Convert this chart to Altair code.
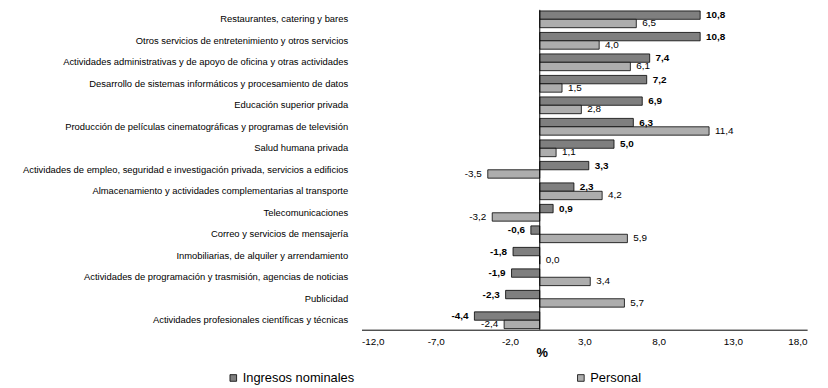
import altair as alt
import pandas as pd

categories = [
    "Restaurantes, catering y bares",
    "Otros servicios de entretenimiento y otros servicios",
    "Actividades administrativas y de apoyo de oficina y otras actividades",
    "Desarrollo de sistemas informáticos y procesamiento de datos",
    "Educación superior privada",
    "Producción de películas cinematográficas y programas de televisión",
    "Salud humana privada",
    "Actividades de empleo, seguridad e investigación privada, servicios a edificios",
    "Almacenamiento y actividades complementarias al transporte",
    "Telecomunicaciones",
    "Correo y servicios de mensajería",
    "Inmobiliarias, de alquiler y arrendamiento",
    "Actividades de programación y trasmisión, agencias de noticias",
    "Publicidad",
    "Actividades profesionales científicas y técnicas",
]
ingresos = [10.8, 10.8, 7.4, 7.2, 6.9, 6.3, 5.0, 3.3, 2.3, 0.9, -0.6, -1.8, -1.9, -2.3, -4.4]
personal = [6.5, 4.0, 6.1, 1.5, 2.8, 11.4, 1.1, -3.5, 4.2, -3.2, 5.9, 0.0, 3.4, 5.7, -2.4]
series = ["Ingresos nominales", "Personal"]
x_ticks = [-12, -7, -2, 3, 8, 13, 18]

rows = []
for c, a, b in zip(categories, ingresos, personal):
    for s, v in zip(series, (a, b)):
        rows.append({"cat": c, "serie": s, "v": v,
                     "lab": f"{v:.1f}".replace(".", ",")})
df = pd.DataFrame(rows)

yenc = alt.Y("cat:N", sort=categories, title=None,
             scale=alt.Scale(paddingInner=0.22, paddingOuter=0.05),
             axis=alt.Axis(domain=False, ticks=False, labelFontSize=9.5,
                           labelFont="Liberation Sans", labelColor="black",
                           labelPadding=14, labelLimit=400))
xenc = alt.X("v:Q", title="%",
             scale=alt.Scale(domain=[-12, 18], nice=False, zero=False),
             axis=alt.Axis(values=x_ticks, grid=False, ticks=False,
                           domainColor="black", domainWidth=1,
                           labelFontSize=10, labelFont="Liberation Sans",
                           labelColor="black", labelPadding=7,
                           labelExpr="(datum.value < 0 ? '-' : '') + replace(format(abs(datum.value), '.1f'), '.', ',')",
                           titleFontSize=13, titleFontWeight="bold",
                           titleFont="Liberation Sans", titleX=182,
                           titleY=17, titleAlign="center"))
yoff = alt.YOffset("serie:N", sort=series, scale=alt.Scale(domain=series))

base = alt.Chart(df)

bars = base.mark_bar(stroke="black", strokeWidth=0.8).encode(
    y=yenc, x=xenc, yOffset=yoff,
    color=alt.Color("serie:N", sort=series,
                    scale=alt.Scale(domain=series, range=["#7f7f7f", "#adadad"]),
                    legend=alt.Legend(title=None, orient="none", direction="horizontal",
                                      legendX=-136, legendY=365, columns=2,
                                      columnPadding=222, symbolType="square",
                                      symbolSize=45, symbolStrokeColor="black",
                                      symbolStrokeWidth=0.8,
                                      labelFontSize=13, labelFont="Liberation Sans",
                                      labelColor="black", labelOffset=3)),
)

zero = alt.Chart(pd.DataFrame({"z": [0]})).mark_rule(color="black", strokeWidth=1).encode(
    x=alt.X("z:Q", scale=alt.Scale(domain=[-12, 18], nice=False, zero=False))
)

def labels(serie, positive, weight):
    cond = "datum.v >= 0" if positive else "datum.v < 0"
    return base.transform_filter(f"datum.serie == '{serie}' && {cond}").mark_text(
        align="left" if positive else "right", dx=6 if positive else -6,
        fontSize=10, font="Liberation Sans", fontWeight=weight, color="black",
        baseline="middle",
    ).encode(y=yenc, x=xenc, yOffset=yoff, text="lab:N")

chart = alt.layer(
    bars, zero,
    labels("Ingresos nominales", True, "bold"),
    labels("Ingresos nominales", False, "bold"),
    labels("Personal", True, "normal"),
    labels("Personal", False, "normal"),
).properties(
    width=450, height=323,
    autosize=alt.AutoSizeParams(type="none"),
    padding={"left": 357, "top": 0, "right": 13, "bottom": 57},
).configure_view(stroke=None)

chart.save("out.html", embed_options={"renderer": "svg", "actions": False})
